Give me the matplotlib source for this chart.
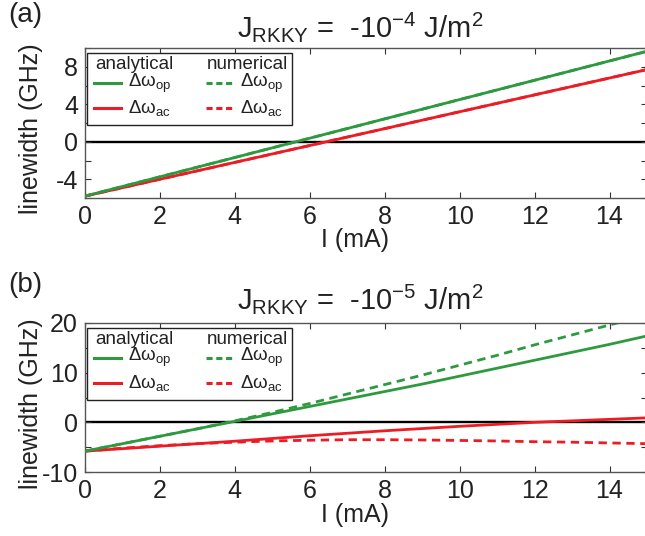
import matplotlib
matplotlib.use('Agg')
import matplotlib.pyplot as plt
from matplotlib.lines import Line2D

plt.rcParams['font.family'] = ['Liberation Sans', 'DejaVu Sans']
plt.rcParams['mathtext.fontset'] = 'custom'
plt.rcParams['mathtext.rm'] = 'Liberation Sans'
plt.rcParams['mathtext.it'] = 'Liberation Sans:italic'

GREEN = '#2e9a40'
RED = '#ec1c24'

# current (mA)
current = [0, 1, 2, 3, 4, 5, 6, 7, 8, 9, 10, 11, 12, 13, 14, 15]

# panel (a): J_RKKY = -1e-4 J/m^2
a_op_analytical = [-5.8, -4.77, -3.74, -2.71, -1.68, -0.65, 0.38, 1.41, 2.44, 3.47, 4.50, 5.53, 6.56, 7.59, 8.62, 9.65]
a_ac_analytical = [-5.8, -4.9, -4.0, -3.1, -2.2, -1.3, -0.4, 0.5, 1.4, 2.3, 3.2, 4.1, 5.0, 5.9, 6.8, 7.7]
a_op_numerical = [-5.8, -4.77, -3.74, -2.71, -1.68, -0.65, 0.38, 1.41, 2.44, 3.47, 4.50, 5.53, 6.56, 7.59, 8.62, 9.65]
a_ac_numerical = [-5.8, -4.9, -4.0, -3.1, -2.2, -1.3, -0.4, 0.5, 1.4, 2.3, 3.2, 4.1, 5.0, 5.9, 6.8, 7.7]

# panel (b): J_RKKY = -1e-5 J/m^2
b_op_analytical = [-5.8, -4.3, -2.8, -1.3, 0.2, 1.7, 3.2, 4.7, 6.2, 7.7, 9.3, 10.9, 12.5, 14.1, 15.7, 17.4]
b_ac_analytical = [-5.8, -5.3, -4.8, -4.3, -3.8, -3.25, -2.7, -2.2, -1.7, -1.25, -0.8, -0.4, 0.0, 0.3, 0.6, 0.9]
b_op_numerical = [-5.8, -4.3, -2.8, -1.3, 0.3, 2.0, 3.8, 5.7, 7.6, 9.5, 11.5, 13.5, 15.6, 17.6, 19.6, 21.6]
b_ac_numerical = [-5.8, -5.2, -4.7, -4.3, -4.0, -3.75, -3.6, -3.5, -3.5, -3.55, -3.65, -3.75, -3.9, -4.0, -4.15, -4.3]

fig = plt.figure(figsize=(6.45, 5.36), dpi=100)
ax_a = fig.add_axes([85 / 645, 338 / 536, 562 / 645, 150 / 536])
ax_b = fig.add_axes([85 / 645, 64 / 536, 562 / 645, 149 / 536])


def style_axes(ax, ylim, yticks, ylabels, yminor):
    ax.axhline(0, color='black', lw=1.7, zorder=1)
    ax.set_xlim(0, 15)
    ax.set_ylim(*ylim)
    ax.set_xticks(range(0, 15, 2))
    ax.set_yticks(yticks)
    ax.set_yticklabels(ylabels)
    ax.set_yticks(yminor, minor=True)
    ax.tick_params(which='both', direction='in', top=True, right=True,
                   length=4.5, width=0.8, color='#333333', labelsize=18,
                   labelcolor='#222222')
    ax.tick_params(axis='x', pad=5)
    ax.tick_params(axis='y', pad=5)
    for s in ax.spines.values():
        s.set_color('#555555')
        s.set_linewidth(1.0)
    ax.set_xlabel('I (mA)', fontsize=18, color='#222222')
    ax.set_ylabel('linewidth (GHz)', fontsize=18, color='#222222')
    ax.yaxis.set_label_coords(-0.075, 0.46)


def draw_legend(ax):
    # single framed box with two columns, headers as plain text
    box = plt.Rectangle((0.003, 0.485), 0.365, 0.48, transform=ax.transAxes,
                        facecolor='white', edgecolor='#222222', lw=1.0, zorder=4)
    ax.add_patch(box)
    kw = dict(transform=ax.transAxes, fontsize=13.5, color='#222222', zorder=5, va='center')
    ax.text(0.019, 0.89, 'analytical', **kw)
    ax.text(0.216, 0.89, 'numerical', **kw)
    rows = [(0.767, GREEN, 'Δω$_{\\rm op}$'), (0.60, RED, 'Δω$_{\\rm ac}$')]
    for y, c, lab in rows:
        ax.add_line(Line2D([0.016, 0.064], [y, y], transform=ax.transAxes,
                           color=c, lw=2.2, zorder=5))
        ax.add_line(Line2D([0.215, 0.263], [y, y], transform=ax.transAxes,
                           color=c, lw=2.2, ls=(0, (2.0, 1.2)), zorder=5))
        ax.text(0.077, y, lab, **kw)
        ax.text(0.276, y, lab, **kw)


for ax, op_an, ac_an, op_nu, ac_nu in [
        (ax_a, a_op_analytical, a_ac_analytical, a_op_numerical, a_ac_numerical),
        (ax_b, b_op_analytical, b_ac_analytical, b_op_numerical, b_ac_numerical)]:
    ax.plot(current, op_nu, color=GREEN, lw=2.0, ls=(0, (3, 2)), zorder=2)
    ax.plot(current, ac_nu, color=RED, lw=2.0, ls=(0, (3, 2)), zorder=2)
    ax.plot(current, ac_an, color=RED, lw=2.0, zorder=3)
    ax.plot(current, op_an, color=GREEN, lw=2.0, zorder=3)

style_axes(ax_a, (-6, 10), [-4, 0, 4, 8], ['-4', '0', '4', '8'], range(-6, 11, 2))
style_axes(ax_b, (-10, 20), [-10, 0, 10, 20], ['-10', '0', '10', '20'], range(-10, 21, 5))
ax_a.xaxis.set_label_coords(0.48, -0.2)
ax_b.xaxis.set_label_coords(0.48, -0.21)
ax_a.xaxis.label.set_va('top')
ax_b.xaxis.label.set_va('top')

draw_legend(ax_a)
draw_legend(ax_b)

ax_a.text(0.49, 1.075, r'J$_{\rm RKKY}$ =  -10$^{-4}$ J/m$^2$', transform=ax_a.transAxes,
          ha='center', va='baseline', fontsize=21, color='#222222')
ax_b.text(0.49, 1.09, r'J$_{\rm RKKY}$ =  -10$^{-5}$ J/m$^2$', transform=ax_b.transAxes,
          ha='center', va='baseline', fontsize=21, color='#222222')

fig.text(8 / 645, 1 - 2 / 536, '(a)', ha='left', va='top', fontsize=20, color='#222222')
fig.text(8 / 645, 1 - 272 / 536, '(b)', ha='left', va='top', fontsize=20, color='#222222')

plt.savefig('out.png', dpi=100)
plt.close()
